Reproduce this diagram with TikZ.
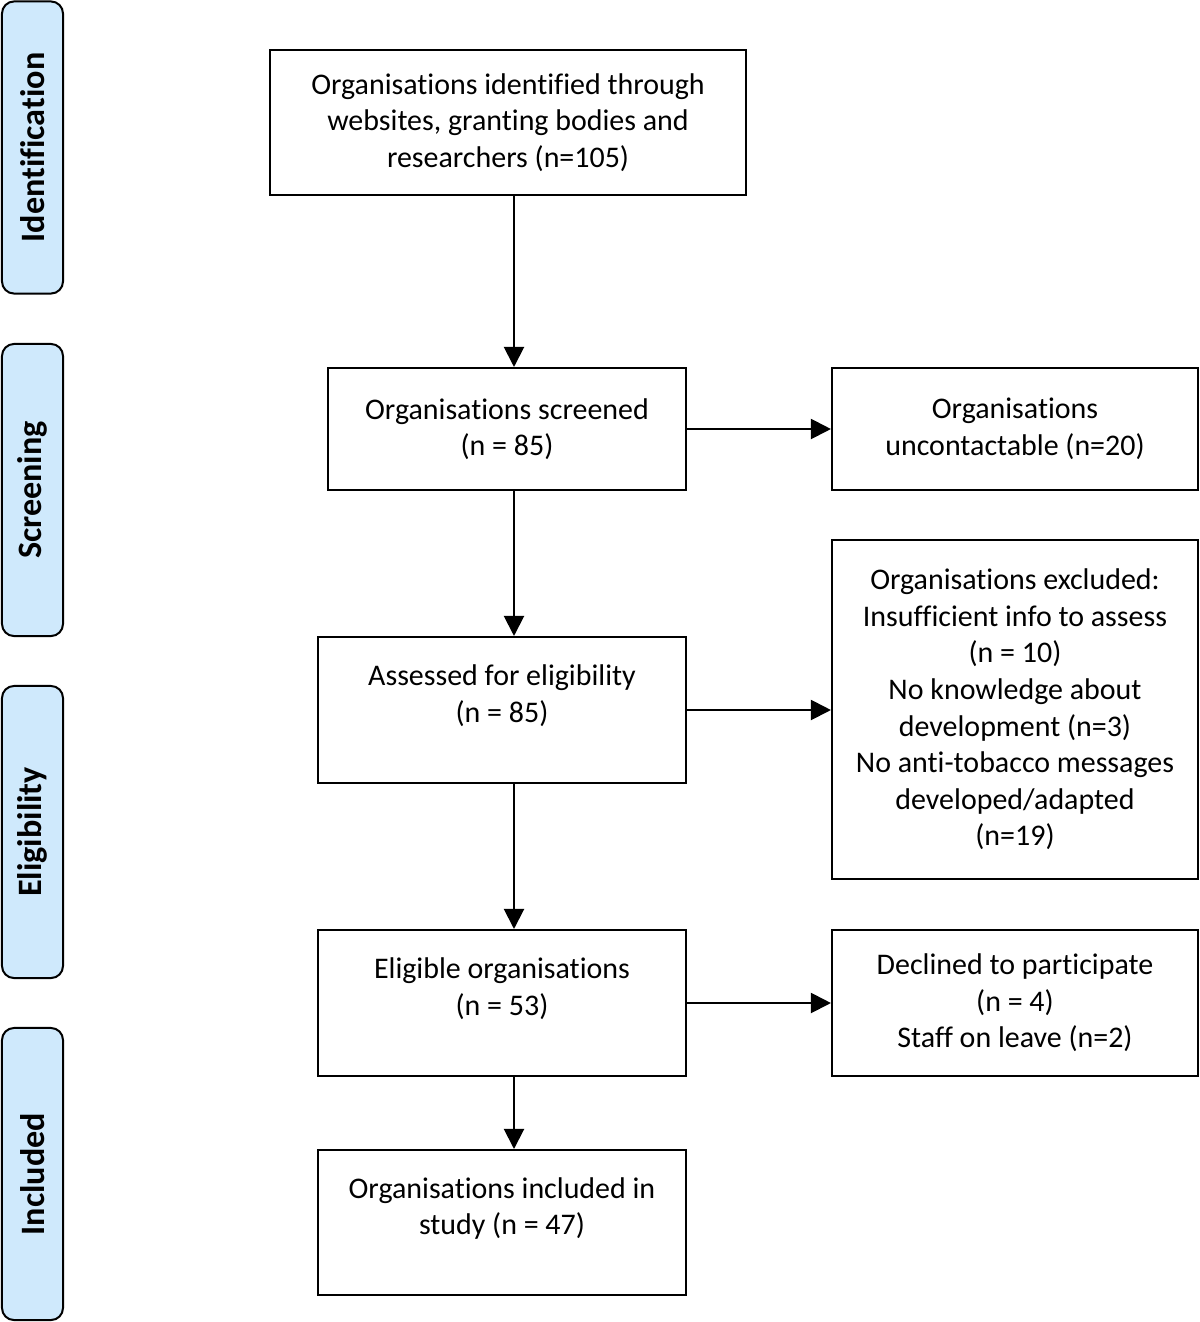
\documentclass[tikz,border=0pt]{standalone}
\usepackage{fontspec}
\setmainfont{Carlito}[Ligatures={NoCommon}]
\usetikzlibrary{arrows.meta}
\definecolor{stagefill}{HTML}{CFE9FC}
\tikzset{
  flowbox/.style={draw, line width=0.05cm, align=center, inner sep=0pt,
    font=\fontsize{21.3}{26}\selectfont},
  lifted/.style={text depth=0.83cm},
  stagebox/.style={draw, line width=0.05cm, fill=stagefill, rounded corners=0.3cm,
    minimum width=1.525cm, minimum height=7.3cm, inner sep=0pt},
  stagetext/.style={rotate=90, font=\bfseries\fontsize{24.3}{28}\selectfont},
  flowarrow/.style={line width=0.05cm, -{Triangle[length=0.5cm,width=0.5cm]}}
}
\begin{document}
\begin{tikzpicture}[x=0.025cm,y=-0.025cm]
  \useasboundingbox (0,0) rectangle (1200,1322);

  % Stage labels on the left
  \node [stagebox] (sid) at (32.5,147.5) {};
  \node [stagetext] (tid) at (sid) {Identification};
  \node [stagebox] (sscr) at (32.5,490) {};
  \node [stagetext] (tscr) at (sscr) {Screening};
  \node [stagebox] (selig) at (32.5,832) {};
  \node [stagetext] (telig) at (selig) {Eligibility};
  \node [stagebox] (sinc) at (32.5,1174) {};
  \node [stagetext] (tinc) at (sinc) {Included};

  % Main column
  \node [flowbox, minimum width=11.9cm, minimum height=3.625cm] (ident) at (508,122.5)
    {Organisations identified through\\ websites, granting bodies and\\ researchers (n=105)};
  \node [flowbox, minimum width=8.95cm, minimum height=3.05cm] (screen) at (507,429)
    {Organisations screened\\ (n = 85)};
  \node [flowbox, lifted, minimum width=9.2cm, minimum height=3.65cm] (assess) at (502,710)
    {Assessed for eligibility\\ (n = 85)};
  \node [flowbox, lifted, minimum width=9.2cm, minimum height=3.65cm] (elig) at (502,1003)
    {Eligible organisations\\ (n = 53)};
  \node [flowbox, lifted, minimum width=9.2cm, minimum height=3.625cm] (incl) at (502,1222.5)
    {Organisations included in\\ study (n = 47)};

  % Right column
  \node [flowbox, minimum width=9.15cm, minimum height=3.05cm] (uncont) at (1015,429)
    {Organisations\\ uncontactable (n=20)};
  \node [flowbox, minimum width=9.15cm, minimum height=8.475cm] (excl) at (1015,709.5)
    {Organisations excluded:\\ Insufficient info to assess\\ (n = 10)\\ No knowledge about\\
     development (n=3)\\ No anti-tobacco messages\\ developed/adapted\\ (n=19)};
  \node [flowbox, minimum width=9.15cm, minimum height=3.65cm] (declin) at (1015,1003)
    {Declined to participate\\ (n = 4)\\ Staff on leave (n=2)};

  % Arrows down the main column
  \coordinate (spine) at (514,0);
  \draw [flowarrow] (ident.south -| spine) -- (screen.north -| spine);
  \draw [flowarrow] (screen.south -| spine) -- (assess.north -| spine);
  \draw [flowarrow] (assess.south -| spine) -- (elig.north -| spine);
  \draw [flowarrow] (elig.south -| spine) -- (incl.north -| spine);

  % Arrows to the exclusions
  \draw [flowarrow] (screen.east) -- (uncont.west);
  \draw [flowarrow] (assess.east) -- (excl.west |- assess.east);
  \draw [flowarrow] (elig.east) -- (declin.west);
\end{tikzpicture}
\end{document}
